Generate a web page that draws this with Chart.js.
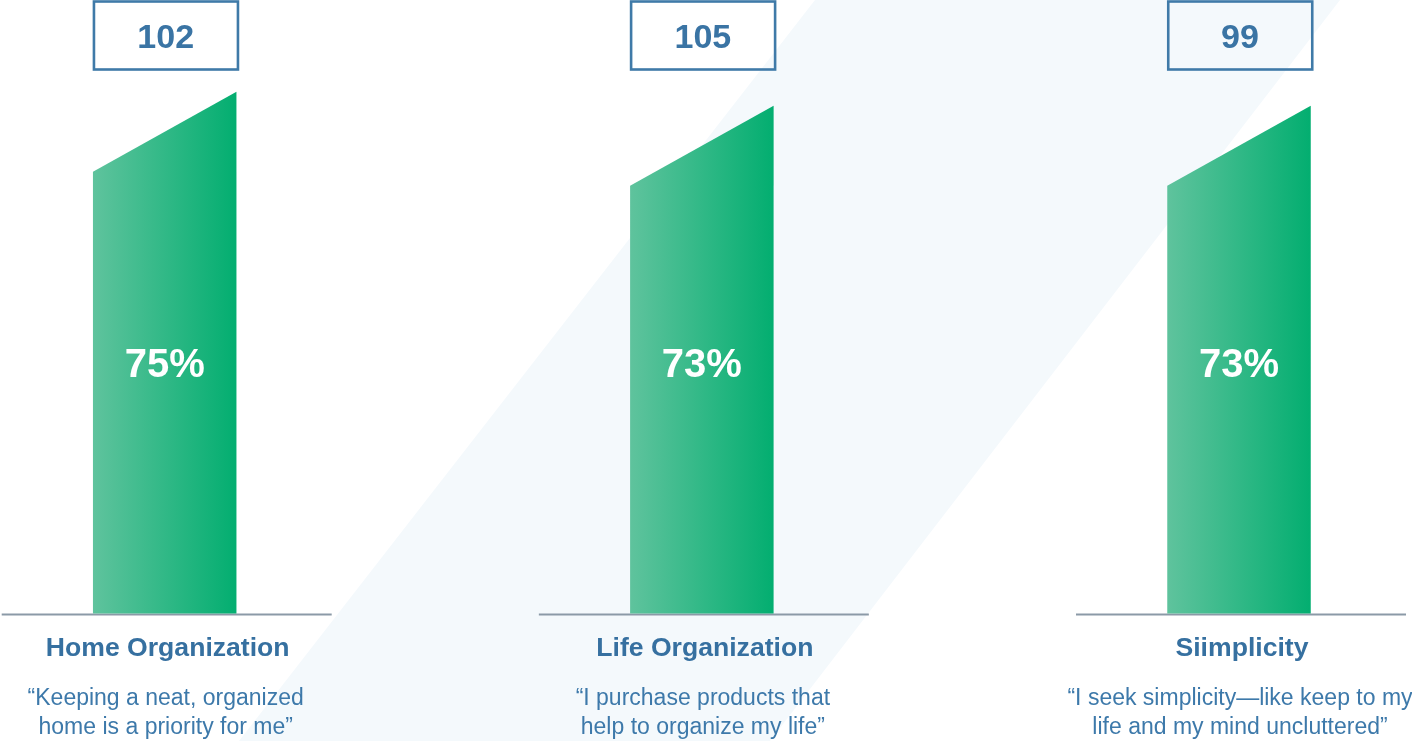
<!DOCTYPE html>
<html>
<head>
<meta charset="utf-8">
<script src="https://cdn.jsdelivr.net/npm/chart.js@4.4.1/dist/chart.umd.min.js"></script>
<style>
  html, body { margin: 0; padding: 0; background: #ffffff; }
  #wrap { width: 1412px; height: 741px; position: relative; }
</style>
</head>
<body>
<div id="wrap"><canvas id="c"></canvas></div>
<script>
// ---- data ----
const categories = ['Home Organization', 'Life Organization', 'Siimplicity'];
const percentValues = [75, 73, 73];
const indexValues = [102, 105, 99];
const quoteLine1 = ['\u201CKeeping a neat, organized', '\u201CI purchase products that', '\u201CI seek simplicity\u2014like keep to my'];
const quoteLine2 = ['home is a priority for me\u201D', 'help to organize my life\u201D', 'life and my mind uncluttered\u201D'];

const FONT = '"Liberation Sans", Arial, Helvetica, sans-serif';

const decoPlugin = {
  id: 'deco',
  beforeDatasetsDraw(chart) {
    const ctx = chart.ctx;
    ctx.save();
    ctx.fillStyle = '#f4f9fc';
    ctx.beginPath();
    ctx.moveTo(815, 0);
    ctx.lineTo(1340, 0);
    ctx.lineTo(770, 741);
    ctx.lineTo(239, 741);
    ctx.closePath();
    ctx.fill();
    ctx.restore();
  },
  afterDatasetsDraw(chart) {
    const ctx = chart.ctx;
    const meta = chart.getDatasetMeta(0);
    ctx.save();
    meta.data.forEach((el, i) => {
      const p = el.getProps(['x', 'y', 'base', 'width'], true);
      const l = p.x - p.width / 2, r = p.x + p.width / 2;
      const slant = 80;
      // baseline
      ctx.strokeStyle = '#8b9aa7';
      ctx.lineWidth = 2;
      ctx.beginPath();
      ctx.moveTo(p.x + 2 - 165, p.base + 1);
      ctx.lineTo(p.x + 2 + 165, p.base + 1);
      ctx.stroke();
      // slanted bar
      const g = ctx.createLinearGradient(l, 0, r, 0);
      g.addColorStop(0, '#5fc39d');
      g.addColorStop(1, '#03ae70');
      ctx.fillStyle = g;
      ctx.beginPath();
      ctx.moveTo(l, p.base);
      ctx.lineTo(l, p.y + slant);
      ctx.lineTo(r, p.y);
      ctx.lineTo(r, p.base);
      ctx.closePath();
      ctx.fill();
      // percentage label
      ctx.fillStyle = '#ffffff';
      ctx.font = 'bold 40px ' + FONT;
      ctx.textAlign = 'center';
      ctx.textBaseline = 'alphabetic';
      ctx.fillText(percentValues[i] + '%', p.x, 377);
      // index box
      ctx.strokeStyle = '#3f7aa8';
      ctx.lineWidth = 2.6;
      ctx.strokeRect(l + 1, 1.5, p.width + 0.5, 68);
      ctx.fillStyle = '#3a74a4';
      ctx.font = 'bold 34px ' + FONT;
      ctx.fillText(String(indexValues[i]), p.x + 1, 48);
      // category title
      ctx.fillStyle = '#3670a0';
      ctx.font = 'bold 26.6px ' + FONT;
      ctx.fillText(categories[i], p.x + 3, 656);
      // quote
      ctx.fillStyle = '#3d79aa';
      ctx.font = '23px ' + FONT;
      ctx.fillText(quoteLine1[i], p.x + 1, 705);
      ctx.fillText(quoteLine2[i], p.x + 1, 734);
    });
    ctx.restore();
  }
};

new Chart(document.getElementById('c'), {
  type: 'bar',
  data: {
    labels: categories,
    datasets: [{
      data: percentValues,
      backgroundColor: 'rgba(0,0,0,0)',
      borderWidth: 0,
      barThickness: 143.5
    }]
  },
  options: {
    responsive: true,
    maintainAspectRatio: false,
    animation: false,
    layout: { padding: { left: 164.7, right: 173, top: 0, bottom: 127.5 } },
    plugins: { legend: { display: false }, tooltip: { enabled: false } },
    scales: {
      x: { type: 'category', offset: false, display: false },
      y: { display: false, min: 0, max: 88.2 }
    }
  },
  plugins: [decoPlugin]
});
</script>
</body>
</html>
